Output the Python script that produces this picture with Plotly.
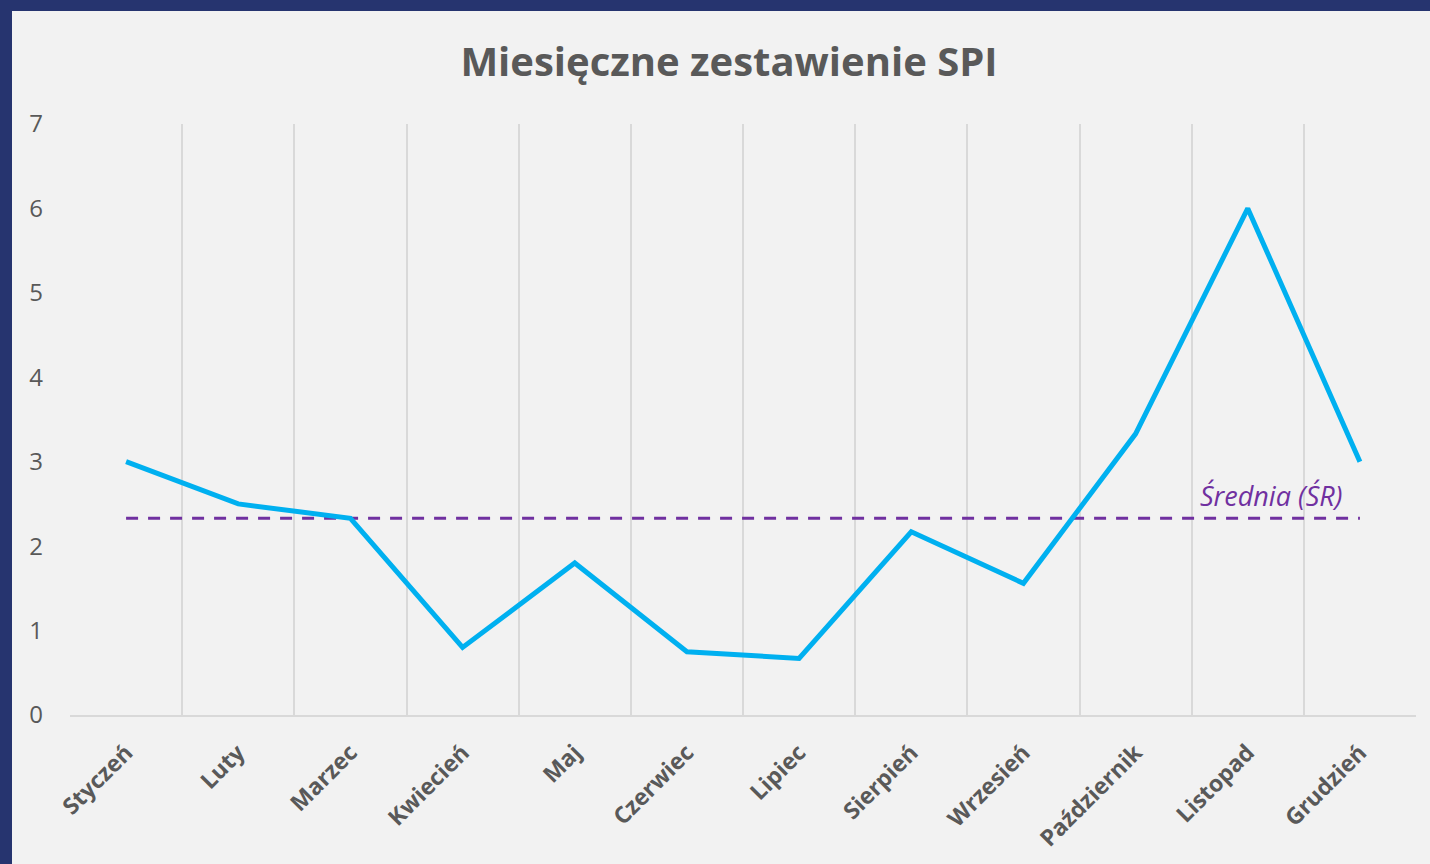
import plotly.graph_objects as go

months = ["Styczeń", "Luty", "Marzec", "Kwiecień", "Maj", "Czerwiec", "Lipiec",
          "Sierpień", "Wrzesień", "Październik", "Listopad", "Grudzień"]
spi = [3.0, 2.5, 2.33, 0.8, 1.8, 0.75, 0.67, 2.17, 1.56, 3.33, 6.0, 3.0]
avg_value = round(sum(spi) / len(spi), 2)
avg_label = "Średnia (ŚR)"
title_text = "Miesięczne zestawienie SPI"
y_ticks = [0, 1, 2, 3, 4, 5, 6, 7]

W, H = 1430, 864
ml, mr, mt, mb = 70, 14, 124, 149
pw, ph = W - ml - mr, H - mt - mb

fig = go.Figure()
fig.add_trace(go.Scatter(x=months, y=[avg_value] * len(months), mode="lines",
                         line=dict(color="#7030a0", width=3, dash="12px,10px"),
                         hoverinfo="skip", showlegend=False))
fig.add_trace(go.Scatter(x=months, y=spi, mode="lines",
                         line=dict(color="#00b0f0", width=5),
                         showlegend=False))

fig.add_annotation(x=months[-1], y=avg_value, text=avg_label, showarrow=False,
                   xanchor="right", yanchor="bottom", xshift=-16, yshift=2,
                   font=dict(family="Open Sans", size=27, color="#7030a0", style="italic"))

navy = "#26346F"
fig.add_shape(type="rect", xref="paper", yref="paper",
              x0=-ml / pw, x1=(12 - ml) / pw, y0=-mb / ph, y1=1 + mt / ph,
              fillcolor=navy, line=dict(width=0), layer="above")
fig.add_shape(type="rect", xref="paper", yref="paper",
              x0=-ml / pw, x1=1 + mr / pw, y0=1 + (mt - 11) / ph, y1=1 + mt / ph,
              fillcolor=navy, line=dict(width=0), layer="above")

fig.update_layout(
    width=W, height=H,
    margin=dict(l=ml, r=mr, t=mt, b=mb, pad=0),
    paper_bgcolor="#f2f2f2", plot_bgcolor="#f2f2f2",
    title=dict(text=title_text, x=(729 - ml) / pw, xref="paper", xanchor="center",
               y=1 - 62 / H, yref="container", yanchor="middle",
               font=dict(family="Open Sans", size=40, color="#595959", weight="bold")),
    xaxis=dict(type="category", range=[-0.5, 11.5], tickson="boundaries",
               showgrid=True, gridcolor="#d9d9d9", gridwidth=2,
               showline=True, linecolor="#d9d9d9", linewidth=2,
               ticks="", tickangle=-45, ticklabelstandoff=13,
               tickfont=dict(family="Open Sans", size=23, color="#595959", weight="bold"),
               zeroline=False),
    yaxis=dict(range=[0, 7], tickvals=y_ticks, showgrid=False, zeroline=False,
               showline=False, ticks="", ticklabelstandoff=26,
               tickfont=dict(family="Open Sans", size=24, color="#595959")),
)

fig.write_html("out.html", config={"displayModeBar": False},
               post_script="document.body.style.margin='0';document.body.style.overflow='hidden';")
